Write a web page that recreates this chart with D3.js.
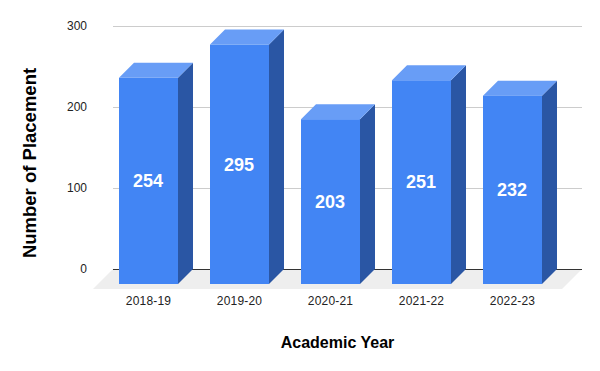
<!DOCTYPE html>
<html>
<head>
<meta charset="utf-8">
<script src="https://cdn.jsdelivr.net/npm/d3@7"></script>
<style>
  html, body { margin: 0; padding: 0; background: #fff; }
  svg { display: block; font-family: "Liberation Sans", Arial, sans-serif; }
</style>
</head>
<body>
<svg id="chart" width="600" height="371"></svg>
<script>
const years = ["2018-19", "2019-20", "2020-21", "2021-22", "2022-23"];
const placements = [254, 295, 203, 251, 232];
const yTicks = [0, 100, 200, 300];

const depth = 15;
const frontColor = "#4285f4";
const topColor = "#689df6";
const sideColor = "#2a56a4";

const svg = d3.select("#chart");

const x = d3.scaleBand()
  .domain(years)
  .range([103, 558])
  .paddingInner(32 / 91)
  .paddingOuter(16 / 91);

// y is on the back wall, the bar fronts sit one depth lower
const y = d3.scaleLinear().domain([0, 300]).range([269, 25.5]);

const wallLeft = x.range()[0] + 10;
const wallRight = x.range()[1] + 24;

// floor
svg.append("path")
  .attr("d", d3.line()([
    [wallLeft, y(0)],
    [wallRight, y(0)],
    [wallRight - 20, y(0) + 20],
    [wallLeft - 20, y(0) + 20],
  ]) + "Z")
  .attr("fill", "#eeeeee");

const yAxis = svg.append("g")
  .attr("transform", `translate(${wallLeft},0)`)
  .call(d3.axisLeft(y).tickValues(yTicks).tickSize(0).tickPadding(26))
  .call((g) => g.select(".domain").remove());

yAxis.selectAll(".tick line")
  .attr("x2", wallRight - wallLeft)
  .attr("stroke", (d) => (d === 0 ? "#333333" : "#cccccc"))
  .attr("shape-rendering", "crispEdges");

yAxis.selectAll(".tick text")
  .attr("font-size", 12)
  .attr("font-family", "'Liberation Sans', sans-serif")
  .attr("dy", "0.32em")
  .attr("fill", "#222222");

const bars = svg.selectAll(".bar")
  .data(years.map((year, i) => ({ year, value: placements[i] })))
  .join("g")
  .attr("class", "bar");

const front = (d) => ({
  x0: x(d.year),
  x1: x(d.year) + x.bandwidth(),
  top: y(d.value) + depth,
  bottom: y(0) + depth,
});

bars.append("path")
  .attr("fill", sideColor)
  .attr("d", (d) => {
    const f = front(d);
    return d3.line()([
      [f.x1, f.top],
      [f.x1 + depth, f.top - depth],
      [f.x1 + depth, f.bottom - depth],
      [f.x1, f.bottom],
    ]) + "Z";
  });

bars.append("path")
  .attr("fill", topColor)
  .attr("d", (d) => {
    const f = front(d);
    return d3.line()([
      [f.x0, f.top],
      [f.x0 + depth, f.top - depth],
      [f.x1 + depth, f.top - depth],
      [f.x1, f.top],
    ]) + "Z";
  });

bars.append("rect")
  .attr("fill", frontColor)
  .attr("x", (d) => front(d).x0)
  .attr("y", (d) => front(d).top)
  .attr("width", x.bandwidth())
  .attr("height", (d) => front(d).bottom - front(d).top);

bars.append("text")
  .attr("x", (d) => x(d.year) + x.bandwidth() / 2 - 0.5)
  .attr("y", (d) => (front(d).top + front(d).bottom) / 2)
  .attr("dy", "0.35em")
  .attr("text-anchor", "middle")
  .attr("fill", "#ffffff")
  .attr("font-family", "'Liberation Sans', sans-serif")
  .attr("font-size", 18)
  .attr("font-weight", 700)
  .text((d) => d.value);

const xAxis = svg.append("g")
  .attr("transform", `translate(0,${y(0) + depth + 12})`)
  .call(d3.axisBottom(x).tickSize(0).tickPadding(0))
  .call((g) => g.select(".domain").remove());

xAxis.selectAll("text")
  .attr("font-size", 12)
  .attr("letter-spacing", 0.2)
  .attr("font-family", "'Liberation Sans', sans-serif")
  .attr("fill", "#222222");

svg.append("text")
  .attr("x", 337.5)
  .attr("y", 348)
  .attr("text-anchor", "middle")
  .attr("font-family", "'Liberation Sans', sans-serif")
  .attr("font-size", 16)
  .attr("font-weight", 700)
  .attr("fill", "#000000")
  .text("Academic Year");

svg.append("text")
  .attr("transform", "translate(36,163) rotate(-90)")
  .attr("text-anchor", "middle")
  .attr("font-family", "'Liberation Sans', sans-serif")
  .attr("font-size", 18.5)
  .attr("font-weight", 700)
  .attr("fill", "#000000")
  .text("Number of Placement");
</script>
</body>
</html>
